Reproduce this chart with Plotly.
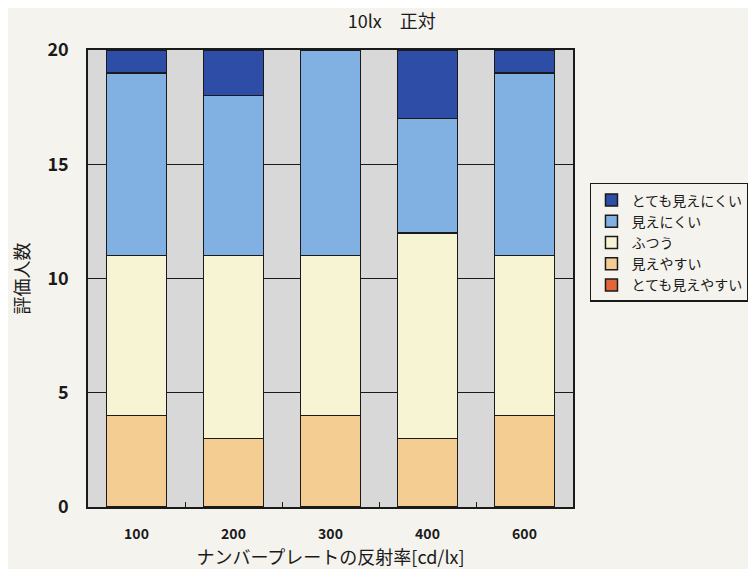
import plotly.graph_objects as go

categories = ["100", "200", "300", "400", "600"]
series_names = ["とても見えやすい", "見えやすい", "ふつう", "見えにくい", "とても見えにくい"]
very_easy = [0, 0, 0, 0, 0]
easy = [4, 3, 4, 3, 4]
normal = [7, 8, 7, 9, 7]
hard = [8, 7, 9, 5, 8]
very_hard = [1, 2, 0, 3, 1]
series_values = [very_easy, easy, normal, hard, very_hard]
colors = ["#E2663A", "#F3CD92", "#F7F4D4", "#80B1E2", "#2E4DA6"]

FONT = "Noto Sans CJK JP"

fig = go.Figure()
n = len(series_names)
for i, (name, vals, col) in enumerate(zip(series_names, series_values, colors)):
    fig.add_trace(go.Bar(
        x=categories, y=vals, name=name, legendgroup=name,
        legendrank=100 + (n - i),
        marker=dict(color=col, line=dict(color="#1a1a1a", width=1.5)),
        width=0.62,
    ))

fig.update_layout(
    barmode="stack",
    width=748, height=561,
    paper_bgcolor="#F5F3EE",
    plot_bgcolor="#D8D8D8",
    margin=dict(l=80, r=183, t=42, b=62, autoexpand=False),
    font=dict(family=FONT, color="#1a1a1a"),
    title=dict(text="10lx　正対", x=0.513, xanchor="center", y=0.975, yanchor="middle",
               font=dict(size=18, family=FONT)),
    showlegend=True,
    legend=dict(
        x=1.035, y=0.709, xanchor="left", yanchor="top",
        traceorder="grouped", tracegroupgap=0,
        bordercolor="#1a1a1a", borderwidth=1.5, bgcolor="rgba(0,0,0,0)",
        font=dict(size=14, family=FONT),
    ),
)
fig.update_xaxes(
    type="category", automargin=False,
    showline=True, linecolor="#1a1a1a", linewidth=1.5, mirror=True,
    ticks="inside", tickson="boundaries", ticklen=5, tickcolor="#1a1a1a",
    tickfont=dict(size=14, family=FONT, weight="bold"),
    ticklabelstandoff=13,
    title=dict(text="ナンバープレートの反射率[cd/lx]", font=dict(size=18, family=FONT), standoff=3),
)
fig.update_yaxes(
    range=[0, 20], tickvals=[0, 5, 10, 15, 20], automargin=False,
    showline=True, linecolor="#1a1a1a", linewidth=1.5, mirror=True,
    showgrid=True, gridcolor="#1a1a1a", gridwidth=1,
    ticks="", tickfont=dict(size=18, family=FONT, weight="bold"),
    ticklabelstandoff=14,
    title=dict(text="評価人数", font=dict(size=18, family=FONT), standoff=20),
    zeroline=False,
)

fig.write_html("out.html")
